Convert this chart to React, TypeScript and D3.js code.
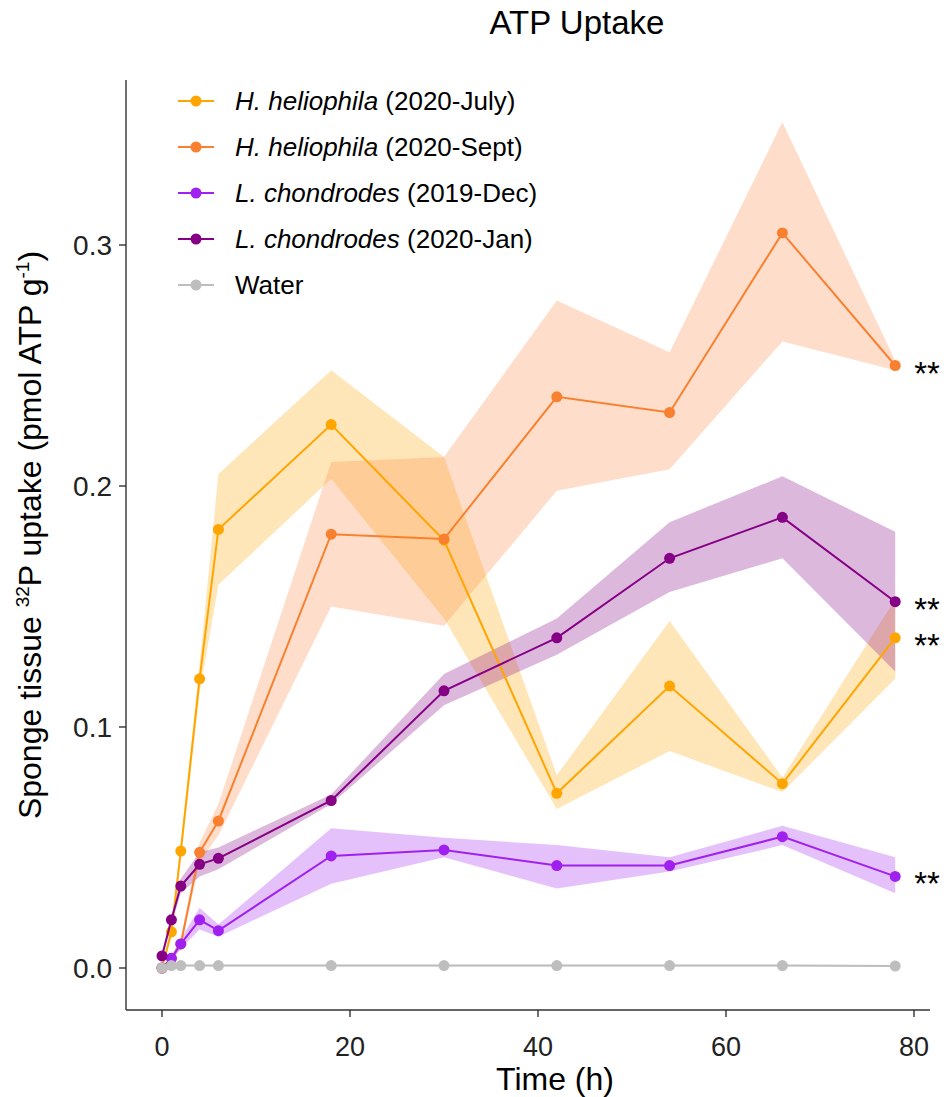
import * as d3 from "d3";
import React from "react";

// sampling times (h)
const times = [0, 1, 2, 4, 6, 18, 30, 42, 54, 66, 78];

const julyMean = [0, 0.015, 0.0485, 0.12, 0.182, 0.2255, 0.1775, 0.0725, 0.117, 0.0765, 0.137];
const julyLo = [0, 0.012, 0.045, 0.114, 0.159, 0.203, 0.145, 0.066, 0.09, 0.073, 0.12];
const julyHi = [0, 0.018, 0.052, 0.126, 0.205, 0.248, 0.212, 0.08, 0.144, 0.079, 0.153];

const septMean = [0, 0.004, 0.01, 0.048, 0.061, 0.18, 0.178, 0.237, 0.2305, 0.305, 0.25];
const septLo = [0, 0.003, 0.008, 0.044, 0.055, 0.15, 0.142, 0.198, 0.207, 0.26, 0.248];
const septHi = [0, 0.005, 0.012, 0.052, 0.068, 0.21, 0.212, 0.277, 0.2555, 0.351, 0.252];

const decMean = [0, 0.004, 0.01, 0.02, 0.0155, 0.0465, 0.049, 0.0425, 0.0425, 0.0545, 0.038];
const decLo = [0, 0.003, 0.008, 0.016, 0.013, 0.035, 0.046, 0.033, 0.04, 0.051, 0.031];
const decHi = [0, 0.005, 0.012, 0.025, 0.018, 0.058, 0.054, 0.051, 0.046, 0.059, 0.046];

const janMean = [0.005, 0.02, 0.034, 0.043, 0.0455, 0.0695, 0.115, 0.137, 0.17, 0.187, 0.152];
const janLo = [0.004, 0.018, 0.031, 0.038, 0.041, 0.068, 0.109, 0.13, 0.156, 0.17, 0.123];
const janHi = [0.006, 0.022, 0.037, 0.048, 0.05, 0.072, 0.122, 0.145, 0.185, 0.204, 0.181];

const waterMean = [0, 0.001, 0.001, 0.001, 0.001, 0.001, 0.001, 0.001, 0.001, 0.001, 0.0008];
const waterLo = [0, 0.0005, 0.0005, 0.0005, 0.0005, 0.0005, 0.0005, 0.0005, 0.0005, 0.0005, 0.0004];
const waterHi = [0, 0.0015, 0.0015, 0.0015, 0.0015, 0.0015, 0.0015, 0.0015, 0.0015, 0.0015, 0.0012];

const series = [
  { species: "H. heliophila", tag: "(2020-July)", color: "#FFA500", fill: "#FFA500", mean: julyMean, lo: julyLo, hi: julyHi, star: true },
  { species: "H. heliophila", tag: "(2020-Sept)", color: "#F8802F", fill: "#FB8A45", mean: septMean, lo: septLo, hi: septHi, star: true },
  { species: "L. chondrodes", tag: "(2019-Dec)", color: "#A020F0", fill: "#A020F0", mean: decMean, lo: decLo, hi: decHi, star: true },
  { species: "L. chondrodes", tag: "(2020-Jan)", color: "#850085", fill: "#850085", mean: janMean, lo: janLo, hi: janHi, star: true },
  { species: "Water", tag: "", color: "#BEBEBE", fill: "#BEBEBE", mean: waterMean, lo: waterLo, hi: waterHi, star: false },
];

const xTicks = [0, 20, 40, 60, 80];
const yTicks = [0, 0.1, 0.2, 0.3];

const W = 946;
const H = 1097;
const font = "Liberation Sans, Arial, sans-serif";

export default function App() {
  const x = d3.scaleLinear().domain([0, 80]).range([162, 914]);
  const y = d3.scaleLinear().domain([0, 0.3]).range([968, 245]);
  const axisLeftX = 126;
  const axisBottomY = 1010;

  const line = d3
    .line<number>()
    .x((_, i) => x(times[i]))
    .y((d) => y(d));

  return (
    <svg width={W} height={H} style={{ position: "absolute", left: 0, top: 0 }} fontFamily={font}>
      <rect width={W} height={H} fill="white" />
      <text x={577} y={34} textAnchor="middle" fontSize={33}>ATP Uptake</text>

      {/* ribbons */}
      {series.map((s, k) => {
        const band = d3
          .area<number>()
          .x((_, i) => x(times[i]))
          .y0((d) => y(d))
          .y1((_, i) => y(s.hi[i]));
        return <path key={"b" + k} d={band(s.lo) || ""} fill={s.fill} fillOpacity={0.28} stroke="none" />;
      })}

      {/* lines and points */}
      {series.map((s, k) => (
        <g key={"l" + k}>
          <path d={line(s.mean) || ""} fill="none" stroke={s.color} strokeWidth={2} />
          {s.mean.map((v, i) => (
            <circle key={i} cx={x(times[i])} cy={y(v)} r={5.5} fill={s.color} />
          ))}
        </g>
      ))}

      {/* significance */}
      {series.filter((s) => s.star).map((s, k) => (
        <text key={"s" + k} x={x(78) + 19} y={y(s.mean[s.mean.length - 1]) + 19} fontSize={33}>**</text>
      ))}

      {/* axes */}
      <line x1={axisLeftX} x2={axisLeftX} y1={80} y2={axisBottomY} stroke="#333" strokeWidth={1.4} />
      <line x1={axisLeftX} x2={930} y1={axisBottomY} y2={axisBottomY} stroke="#333" strokeWidth={1.4} />
      {yTicks.map((t) => (
        <g key={"y" + t}>
          <line x1={axisLeftX - 7} x2={axisLeftX} y1={y(t)} y2={y(t)} stroke="#333" strokeWidth={1.4} />
          <text x={axisLeftX - 14} y={y(t) + 10} textAnchor="end" fontSize={28} fill="#222">{d3.format(".1f")(t)}</text>
        </g>
      ))}
      {xTicks.map((t) => (
        <g key={"x" + t}>
          <line x1={x(t)} x2={x(t)} y1={axisBottomY} y2={axisBottomY + 7} stroke="#333" strokeWidth={1.4} />
          <text x={x(t)} y={axisBottomY + 46} textAnchor="middle" fontSize={27} fill="#222">{t}</text>
        </g>
      ))}
      <text x={555} y={1090} textAnchor="middle" fontSize={32}>Time (h)</text>
      <text transform="translate(41,535) rotate(-90)" textAnchor="middle" fontSize={32}>
        Sponge tissue <tspan fontSize={19} dy={-12}>32</tspan>
        <tspan dy={12}>P uptake (pmol ATP g</tspan>
        <tspan fontSize={19} dy={-12}>-1</tspan>
        <tspan dy={12}>)</tspan>
      </text>

      {/* legend */}
      {series.map((s, k) => {
        const ly = 101 + k * 46;
        return (
          <g key={"g" + k}>
            <line x1={178} x2={214} y1={ly} y2={ly} stroke={s.color} strokeWidth={2} />
            <circle cx={196} cy={ly} r={5.5} fill={s.color} />
            <text x={235} y={ly + 9} fontSize={26}>
              <tspan fontStyle={s.tag ? "italic" : "normal"}>{s.species}</tspan>
              {s.tag ? " " + s.tag : ""}
            </text>
          </g>
        );
      })}
    </svg>
  );
}
